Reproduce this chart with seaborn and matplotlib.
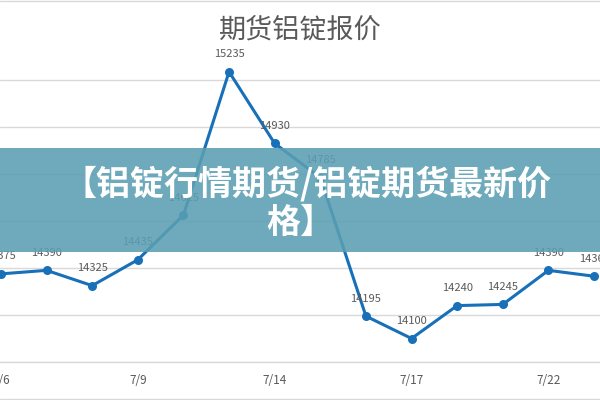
import numpy as np
import pandas as pd
import matplotlib.pyplot as plt
import seaborn as sns
from matplotlib.lines import Line2D
from matplotlib.patches import Rectangle

# --- Data ---
dates = ['7/6', '7/7', '7/8', '7/9', '7/10', '7/13', '7/14',
         '7/15', '7/16', '7/17', '7/20', '7/21', '7/22', '7/23']
prices = [14375, 14390, 14325, 14435, 14625, 15235, 14930,
          14785, 14195, 14100, 14240, 14245, 14390, 14365]
shown_dates = ['7/6', '7/9', '7/14', '7/17', '7/22']
y_grid = [14000, 14200, 14400, 14600, 14800, 15000, 15200]

title = '期货铝锭报价'
banner_lines = ['【铝锭行情期货/铝锭期货最新价', '格】']

df = pd.DataFrame({'date': dates, 'price': prices})
df['pos'] = np.arange(len(df))

sns.set_theme(style='white')
plt.rcParams['font.family'] = ['Noto Sans CJK SC', 'DejaVu Sans']

LINE = '#1770B8'
GREY = '#595959'
GRID = '#D9D9D9'

fig = plt.figure(figsize=(6, 4), dpi=100)
ax = fig.add_axes([0, 0.095, 1, 0.8225])

sns.lineplot(data=df, x='pos', y='price', ax=ax, color=LINE, linewidth=2.2,
             marker='o', markersize=6.5, markeredgewidth=0, zorder=3)

for p, v in zip(df['pos'], df['price']):
    ax.annotate(str(v), (p, v), xytext=(0, 9), textcoords='offset points',
                ha='center', va='bottom', fontsize=8, color=GREY)

ax.set_xlim(-0.02, 13.13)
ax.set_ylim(14000, 15400)
ax.set_yticks(y_grid)
ax.set_yticklabels([])
ax.yaxis.grid(True, color=GRID, linewidth=1)
ax.set_axisbelow(True)

ax.set_xticks([dates.index(d) for d in shown_dates])
ax.set_xticklabels(shown_dates, fontsize=8.5, color=GREY)
ax.set_xticks(df['pos'][:-1] + 0.5, minor=True)
ax.tick_params(axis='x', which='major', length=0, pad=9)
ax.tick_params(axis='x', which='minor', length=5, width=1, color=GRID, direction='out')
ax.tick_params(axis='y', length=0)
ax.set_xlabel('')
ax.set_ylabel('')
for side in ['top', 'left', 'right']:
    ax.spines[side].set_visible(False)
ax.spines['bottom'].set_color(GRID)
ax.spines['bottom'].set_linewidth(1)

fig.text(0.5, 0.925, title, ha='center', va='center', fontsize=19.5, color=GREY)

# chart border lines (top / bottom)
fig.add_artist(Line2D([0, 1], [0.9975, 0.9975], color=GRID, linewidth=1))
fig.add_artist(Line2D([0, 1], [0.0025, 0.0025], color=GRID, linewidth=1))

# teal banner overlay
fig.add_artist(Rectangle((0, 0.37), 1, 0.26, transform=fig.transFigure,
                         facecolor='#5A9FB2', alpha=0.88, edgecolor='none', zorder=5))
fig.text(0.512, 0.542, banner_lines[0], ha='center', va='center', fontsize=24.5,
         fontweight='heavy', color='white', zorder=6)
fig.text(0.5, 0.445, banner_lines[1], ha='center', va='center', fontsize=24.5,
         fontweight='heavy', color='white', zorder=6)

fig.savefig('out.png', dpi=100)
plt.close(fig)
